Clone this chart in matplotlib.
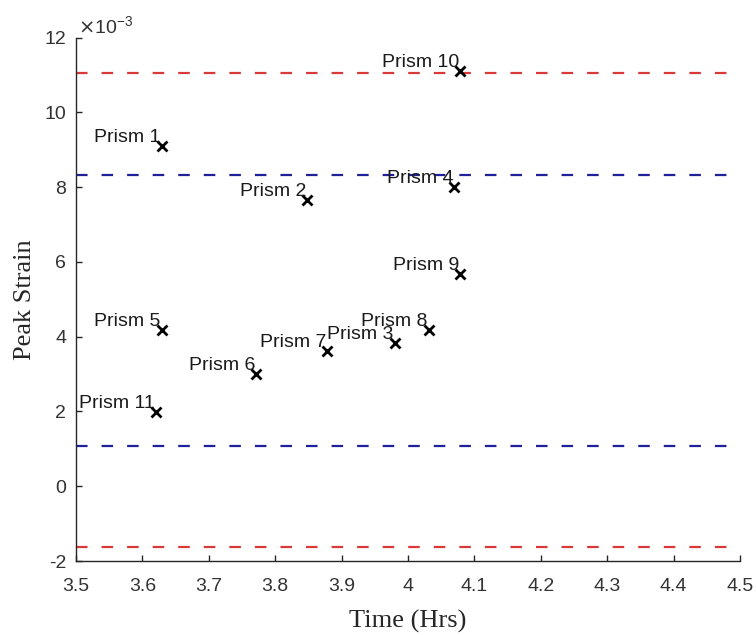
import matplotlib
matplotlib.use("Agg")
import matplotlib.pyplot as plt
from matplotlib.ticker import FixedLocator, FuncFormatter

plt.rcParams['axes.unicode_minus'] = False

# Data (strain values in units of 1e-3)
prisms = ["Prism 1", "Prism 2", "Prism 3", "Prism 4", "Prism 5", "Prism 6",
          "Prism 7", "Prism 8", "Prism 9", "Prism 10", "Prism 11"]
time_hrs = [3.629, 3.848, 3.980, 4.070, 3.629, 3.771, 3.878, 4.031, 4.078, 4.079, 3.620]
peak_strain = [9.11, 7.66, 3.82, 8.01, 4.18, 3.00, 3.62, 4.18, 5.67, 11.12, 1.98]

blue_limits = [8.33, 1.09]
red_limits = [11.05, -1.63]

x_ticks = [3.5, 3.6, 3.7, 3.8, 3.9, 4.0, 4.1, 4.2, 4.3, 4.4, 4.5]
y_ticks = [-2, 0, 2, 4, 6, 8, 10, 12]

sans = ["Liberation Sans", "DejaVu Sans"]
serif = ["Liberation Serif", "DejaVu Serif"]

fig = plt.figure(figsize=(7.56, 6.35), dpi=100)
ax = fig.add_axes([76/756, 1 - 561/635, (740 - 76)/756, (561 - 37.7)/635])

xmin, xmax = 3.5, 4.5
for v in red_limits:
    ax.plot([xmin, xmax], [v, v], color="#d83a3a", lw=1.6, dashes=(5.2, 6.3), zorder=1)
for v in blue_limits:
    ax.plot([xmin, xmax], [v, v], color="#20209a", lw=1.6, dashes=(5.2, 6.3), zorder=1)

ax.plot(time_hrs, peak_strain, linestyle="none", marker="x", color="black",
        markersize=6.5, markeredgewidth=2, zorder=3)

for name, x, y in zip(prisms, time_hrs, peak_strain):
    ax.annotate(name, (x, y), xytext=(-1, 4), textcoords="offset pixels",
                ha="right", va="baseline", fontsize=14, family=sans,
                color="#1a1a1a", zorder=4)

ax.set_xlim(xmin, xmax)
ax.set_ylim(-2, 12)
ax.xaxis.set_major_locator(FixedLocator(x_ticks))
ax.yaxis.set_major_locator(FixedLocator(y_ticks))
ax.xaxis.set_major_formatter(FuncFormatter(lambda v, p: f"{v:g}"))
ax.yaxis.set_major_formatter(FuncFormatter(lambda v, p: f"{v:g}"))

for s in ["top", "right"]:
    ax.spines[s].set_visible(False)
for s in ["left", "bottom"]:
    ax.spines[s].set_color("#262626")
    ax.spines[s].set_linewidth(1.0)

ax.tick_params(axis="both", direction="in", length=4.5, width=1.0, colors="#262626",
               labelcolor="#333333", labelsize=14)
ax.tick_params(axis="x", pad=12)
ax.tick_params(axis="y", pad=7)
for lab in ax.get_xticklabels() + ax.get_yticklabels():
    lab.set_family(sans)

ax.set_xlabel("Time (Hrs)", fontsize=19, family=serif, color="#262626", labelpad=11)
ax.set_ylabel("Peak Strain", fontsize=19, family=serif, color="#262626", labelpad=6)

ax.text(0.003, 1.0, r"$\times$10$^{\mathregular{-3}}$", transform=ax.transAxes,
        ha="left", va="bottom", fontsize=14, family=sans, color="#333333")

fig.savefig("out.png", dpi=100)
